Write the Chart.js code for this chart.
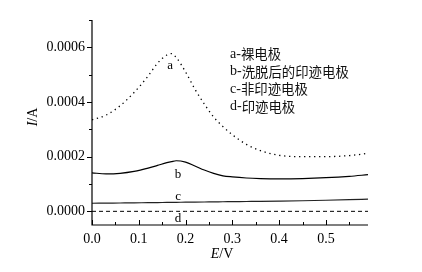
<!DOCTYPE html>
<html>
<head>
<meta charset="utf-8">
<script src="https://cdn.jsdelivr.net/npm/chart.js@4"></script>
<style>
  html, body { margin: 0; padding: 0; background: #fff; }
  #wrap { width: 422px; height: 272px; }
</style>
</head>
<body>
<div id="wrap"><canvas id="myChart" width="422" height="272"></canvas></div>
<script>
// potential E/V, shared by all four curves
const potential = [0, 0.03, 0.06, 0.09, 0.12, 0.14, 0.16, 0.17, 0.18, 0.20, 0.22, 0.24, 0.26, 0.28, 0.30, 0.33, 0.36, 0.40, 0.45, 0.50, 0.55, 0.59];
// a - bare electrode
const curveA = [0.000335, 0.000352, 0.000386, 0.000435, 0.000495, 0.000542, 0.000572, 0.000577, 0.000563, 0.000510, 0.000447, 0.000393, 0.000345, 0.000310, 0.000280, 0.000245, 0.000222, 0.000205, 0.000200, 0.000200, 0.000204, 0.000212];
// b - imprinted electrode after elution
const curveB = [0.000141, 0.000137, 0.000139, 0.000146, 0.000158, 0.000168, 0.000178, 0.000182, 0.000185, 0.000180, 0.000166, 0.000151, 0.000139, 0.000130, 0.000126, 0.000122, 0.000120, 0.000119, 0.000120, 0.000123, 0.000128, 0.000134];
// c - non-imprinted electrode
const curveC = [0.0000295, 0.0000300, 0.0000305, 0.0000310, 0.0000318, 0.0000322, 0.0000326, 0.0000328, 0.0000330, 0.0000334, 0.0000338, 0.0000342, 0.0000346, 0.0000350, 0.0000354, 0.0000360, 0.0000366, 0.0000375, 0.0000388, 0.0000405, 0.0000425, 0.0000445];
// d - imprinted electrode
const curveD = [0, 0, 0, 0, 0, 0, 0, 0, 0, 0, 0, 0, 0, 0, 0, 0, 0, 0, 0, 0, 0, 0];

const xMajor = [0, 0.1, 0.2, 0.3, 0.4, 0.5];
const xMinor = [0.05, 0.15, 0.25, 0.35, 0.45, 0.55];
const yMajor = [0, 0.0002, 0.0004, 0.0006];
const yMinor = [0.0001, 0.0003, 0.0005, 0.0007];

const curveTags = [
  {text: 'a', x: 0.167, y: 0.000535},
  {text: 'b', x: 0.184, y: 0.000135},
  {text: 'c', x: 0.184, y: 0.000054},
  {text: 'd', x: 0.184, y: -0.000027}
];
const legendLines = ['a-裸电极', 'b-洗脱后的印迹电极', 'c-非印迹电极', 'd-印迹电极'];

const serif = '"Liberation Serif", "DejaVu Serif", serif';
const cjk = '"Noto Sans CJK SC", sans-serif';

function pts(ys) {
  return potential.map((x, i) => ({x: x, y: ys[i]}));
}

const axesPlugin = {
  id: 'axesPlugin',
  afterDraw(chart) {
    const ctx = chart.ctx;
    const xs = chart.scales.x, ys = chart.scales.y;
    const area = chart.chartArea;
    ctx.save();
    ctx.strokeStyle = '#000';
    ctx.lineWidth = 1.2;
    ctx.beginPath();
    ctx.moveTo(area.left, area.top);
    ctx.lineTo(area.left, area.bottom);
    ctx.lineTo(area.right, area.bottom);
    ctx.stroke();

    ctx.lineWidth = 1;
    ctx.beginPath();
    yMajor.forEach(v => {
      const p = Math.round(ys.getPixelForValue(v)) + 0.5;
      ctx.moveTo(area.left - 5, p); ctx.lineTo(area.left, p);
    });
    yMinor.forEach(v => {
      const p = Math.round(ys.getPixelForValue(v)) + 0.5;
      ctx.moveTo(area.left - 3, p); ctx.lineTo(area.left, p);
    });
    xMajor.forEach(v => {
      const p = Math.round(xs.getPixelForValue(v)) + 0.5;
      ctx.moveTo(p, area.bottom); ctx.lineTo(p, area.bottom - 5);
    });
    xMinor.forEach(v => {
      const p = Math.round(xs.getPixelForValue(v)) + 0.5;
      ctx.moveTo(p, area.bottom); ctx.lineTo(p, area.bottom - 3);
    });
    ctx.stroke();

    // curve tags
    ctx.fillStyle = '#000';
    ctx.font = '13px ' + serif;
    ctx.textAlign = 'center';
    ctx.textBaseline = 'middle';
    curveTags.forEach(t => {
      ctx.fillText(t.text, xs.getPixelForValue(t.x), ys.getPixelForValue(t.y));
    });

    // legend text
    ctx.textAlign = 'left';
    ctx.fillStyle = '#111';
    legendLines.forEach((s, i) => {
      const yy = 54 + i * 17.6;
      const head = s.slice(0, 2);
      const rest = s.slice(2);
      ctx.font = '14px ' + serif;
      ctx.fillText(head, 230, yy);
      const w = ctx.measureText(head).width;
      ctx.font = '13.4px ' + cjk;
      ctx.fillText(rest, 230 + w, yy);
    });

    // axis titles: italic symbol + unit
    ctx.fillStyle = '#000';
    ctx.font = 'italic 14px ' + serif;
    let w1 = ctx.measureText('E').width;
    ctx.font = '14px ' + serif;
    let w2 = ctx.measureText('/V').width;
    let x0 = 222 - (w1 + w2) / 2;
    ctx.font = 'italic 14px ' + serif;
    ctx.fillText('E', x0, 254);
    ctx.font = '14px ' + serif;
    ctx.fillText('/V', x0 + w1, 254);

    ctx.translate(33, 117);
    ctx.rotate(-Math.PI / 2);
    ctx.font = 'italic 14px ' + serif;
    w1 = ctx.measureText('I').width;
    ctx.font = '14px ' + serif;
    w2 = ctx.measureText('/A').width;
    x0 = -(w1 + w2) / 2;
    ctx.font = 'italic 14px ' + serif;
    ctx.fillText('I', x0, 0);
    ctx.font = '14px ' + serif;
    ctx.fillText('/A', x0 + w1, 0);
    ctx.restore();
  }
};

const ctx = document.getElementById('myChart');
new Chart(ctx, {
  type: 'line',
  data: {
    datasets: [
      {label: 'a', data: pts(curveA), borderColor: '#000', borderWidth: 1.3, borderDash: [1.3, 3.7], pointRadius: 0, fill: false, cubicInterpolationMode: 'monotone'},
      {label: 'b', data: pts(curveB), borderColor: '#000', borderWidth: 1.2, pointRadius: 0, fill: false, cubicInterpolationMode: 'monotone'},
      {label: 'c', data: pts(curveC), borderColor: '#222', borderWidth: 1.2, pointRadius: 0, fill: false, cubicInterpolationMode: 'monotone'},
      {label: 'd', data: pts(curveD), borderColor: '#000', borderWidth: 1, borderDash: [4, 3], pointRadius: 0, fill: false}
    ]
  },
  options: {
    responsive: false,
    animation: false,
    layout: {padding: {left: 0, top: 20, right: 54, bottom: 0}},
    plugins: {legend: {display: false}, tooltip: {enabled: false}},
    scales: {
      x: {
        type: 'linear',
        min: 0,
        max: 0.59,
        grid: {display: false, drawTicks: false},
        border: {display: false},
        afterBuildTicks: s => { s.ticks = xMajor.map(v => ({value: v})); },
        afterFit: s => { s.height = 47; },
        ticks: {
          padding: 6,
          color: '#000',
          font: {family: serif, size: 14},
          maxRotation: 0,
          callback: v => v.toFixed(1)
        }
      },
      y: {
        min: -0.00005,
        max: 0.0007,
        grid: {display: false, drawTicks: false},
        border: {display: false},
        afterBuildTicks: s => { s.ticks = yMajor.map(v => ({value: v})); },
        afterFit: s => { s.width = 92; },
        ticks: {
          padding: 7,
          color: '#000',
          font: {family: serif, size: 14},
          callback: v => v.toFixed(4)
        }
      }
    }
  },
  plugins: [axesPlugin]
});
</script>
</body>
</html>
